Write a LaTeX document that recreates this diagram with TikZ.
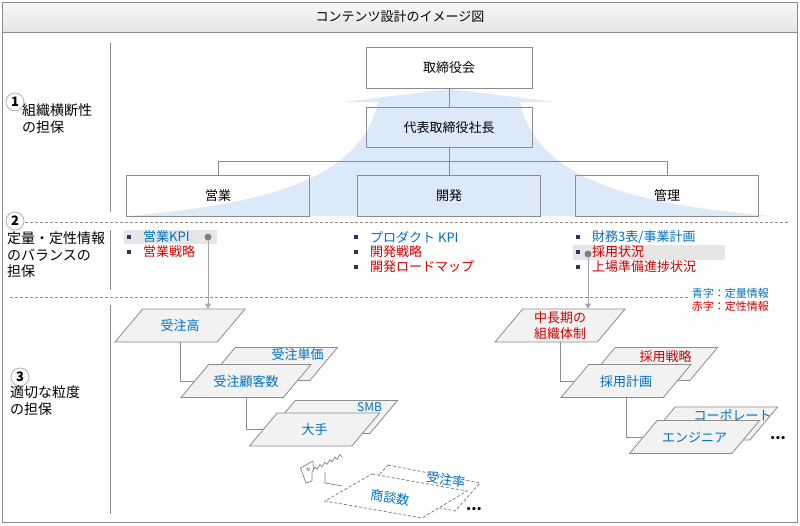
\documentclass[tikz,border=0pt]{standalone}
\usepackage{fontspec}
\setmainfont{Noto Sans CJK JP}
\usepackage{tikz}
\usetikzlibrary{positioning,shapes.geometric,arrows.meta}
\definecolor{lineg}{HTML}{8C8C8C}
\definecolor{cardf}{HTML}{F2F2F2}
\definecolor{hlg}{HTML}{E6E6E6}
\definecolor{qblue}{HTML}{0070C0}
\definecolor{qred}{HTML}{D00000}
\definecolor{arrowb}{HTML}{DCE9F9}
\definecolor{navy}{HTML}{1F3864}

\begin{document}
\begin{tikzpicture}[x=1pt,y=-1pt,
  box/.style={draw=lineg,line width=0.8pt,minimum width=183pt,minimum height=41pt,font=\fontsize{13}{15}\selectfont},
  conn/.style={draw=lineg,line width=0.8pt},
  sep/.style={draw=lineg,line width=0.8pt,dash pattern=on 3pt off 2pt},
  num/.style={circle,draw=gray!60,fill=white,line width=0.8pt,minimum size=18pt,inner sep=0pt,font=\fontsize{13}{13}\selectfont\bfseries},
  lab/.style={anchor=north west,align=left,inner sep=0pt,font=\fontsize{14}{16.5}\selectfont},
  item/.style={anchor=west,inner sep=1pt,font=\fontsize{13}{15}\selectfont,label={[fill=navy,minimum size=4pt,inner sep=0pt,label distance=11pt]left:{}}},
  hl/.style={fill=hlg,inner sep=0pt},
  dot/.style={circle,fill=gray,minimum size=7pt,inner sep=0pt},
  flow/.style={draw=gray!70,line width=0.8pt,-{Triangle[width=6pt,length=5pt]}},
  card/.style={trapezium,trapezium left angle=50,trapezium right angle=130,trapezium stretches body,draw=lineg,fill=cardf,line width=0.8pt,minimum width=130pt,minimum height=0pt,text height=11.5pt,text depth=1.5pt,inner xsep=1pt,inner ysep=10pt,font=\fontsize{13}{15}\selectfont},
  legend/.style={anchor=east,inner sep=0pt,font=\fontsize{11}{13}\selectfont},
  more/.style={inner sep=0pt,font=\fontsize{15}{15}\selectfont\bfseries},
  saw/.style={draw=gray,line width=0.7pt,line join=round}]
\useasboundingbox (0,0) rectangle (800,525);
\fill[white] (0,0) rectangle (800,525);
\shade[top color=gray!6,bottom color=gray!20] (2,2) rectangle (797,32);
\draw[lineg] (2,2) rectangle (797,522);
\draw[lineg] (2,32) -- (797,32);
\node[font=\fontsize{13}{15}\selectfont] (title) at (400,17) {コンテンツ設計のイメージ図};

\fill[arrowb] (449,89) -- (554,102) -- (520,102) .. controls (538,185) and (648,205) .. (770,216)
  -- (128,216) .. controls (250,205) and (360,185) .. (378,102) -- (344,102) -- cycle;
\node[box,minimum width=166pt] (board) at (449,67.5) {取締役会};
\node[box,minimum width=166pt,minimum height=40pt] (ceo) at (449,127.5) {代表取締役社長};
\node[box] (sales) at (218,195.5) {営業};
\node[box] (dev) at (449,195.5) {開発};
\node[box] (admin) at (667,195.5) {管理};
\draw[conn] (board) -- (ceo);
\draw[conn] (ceo) -- (dev);
\draw[conn] (sales.north) -- ++(0,-13) -| (admin.north);

\draw[lineg] (110,43) -- (110,212);
\draw[lineg] (110,230) -- (110,290);
\draw[lineg] (110,305) -- (110,514);
\draw[sep] (10,222) -- (790,222);
\draw[sep] (10,297) -- (690,297);
\node[num] (n1) at (15,102) {1};
\node[lab] (l1) at (22,104) {組織横断性\\の担保};
\node[num] (n2) at (15,221) {2};
\node[lab] (l2) at (7,232) {定量・定性情報\\のバランスの\\担保};
\node[num] (n3) at (20,377) {3};
\node[lab] (l3) at (10,386) {適切な粒度\\の担保};

\node[hl,minimum width=93pt,minimum height=14pt] (hl1) at (170.5,237) {};
\node[hl,minimum width=152pt,minimum height=15pt] (hl3) at (649,252.5) {};
\node[item,text=qblue] (s1) at (142,237) {営業KPI};
\node[item,text=qred] (s2) at (142,252) {営業戦略};
\node[item,text=qblue] (p1) at (369,237) {プロダクト KPI};
\node[item,text=qred] (p2) at (369,252) {開発戦略};
\node[item,text=qred] (p3) at (369,267) {開発ロードマップ};
\node[item,text=qblue] (m1) at (591,237) {財務3表/事業計画};
\node[item,text=qred] (m2) at (591,252) {採用状況};
\node[item,text=qred] (m3) at (591,267) {上場準備進捗状況};
\node[legend,text=qblue] (lg1) at (769,293) {青字：定量情報};
\node[legend,text=qred] (lg2) at (769,306) {赤字：定性情報};

\node[card,text=qblue] (jc1) at (180,325.5) {受注高};
\node[card,label={[text=qblue,font=\fontsize{13}{15}\selectfont,xshift=25pt,yshift=9pt]center:受注単価}] (jc2b) at (272.5,364) {};
\node[card,text=qblue] (jc2) at (246,381) {受注顧客数};
\node[card,label={[text=qblue,font=\fontsize{12}{14}\selectfont,xshift=37pt,yshift=10pt]center:SMB}] (jc3b) at (332.5,417) {};
\node[card,text=qblue] (jc3) at (314.5,429.5) {大手};
\draw[conn] (jc1.center |- jc1.south) |- (jc2.left side);
\draw[conn] (jc2.center |- jc2.south) |- (jc3.left side);

\node[card,text=qred,align=center,font=\fontsize{13}{15.5}\selectfont,text height=27pt,text depth=1.5pt,inner ysep=2.25pt] (ck1) at (560,325.5) {中長期の\\組織体制};
\node[card,label={[text=qred,font=\fontsize{13}{15}\selectfont,xshift=13pt,yshift=7pt]center:採用戦略}] (ck2b) at (652.5,364) {};
\node[card,text=qblue] (ck2) at (626,381) {採用計画};
\node[card,label={[text=qblue,font=\fontsize{13}{15}\selectfont,xshift=20pt,yshift=8pt]center:コーポレート}] (ck3b) at (712.5,423.5) {};
\node[card,text=qblue] (ck3) at (694.5,437) {エンジニア};
\draw[conn] (ck1.center |- ck1.south) |- (ck2.left side);
\draw[conn] (ck2.center |- ck2.south) |- (ck3.left side);
\node[more] (dots2) at (778,438) {...};

\node[dot] (d1) at (208,237) {};
\node[dot] (d3) at (588,254) {};
\draw[flow] (d1) -- (d1 |- jc1.north);
\draw[flow] (d3) -- (d3 |- ck1.north);

\draw[saw] (313,461) -- (300.5,468) -- (306,483) -- (312,481) -- (312,472) -- (315,467) -- (317,469.5) -- (320,464.5)
  -- (322,467) -- (325,462) -- (327,464.5) -- (330,459.5) -- (332,462) -- (335,457) -- (337,459.5) -- (340,454.5) -- (342,457);
\draw[saw] (313,461) -- (313.5,470);
\draw[saw] (325,472) -- (325,483) -- (342,486);
\draw[saw] (308,469) circle (1.5);
\draw[sep,draw=gray] (388,465) -- (480,483) -- (455,511) -- (363,493) -- cycle;
\filldraw[sep,draw=gray,fill=white] (372,474) -- (467,491) -- (422,518) -- (325,501) -- cycle;
\node[text=qblue,rotate=-9,inner sep=0pt,font=\fontsize{13}{15}\selectfont] (rate) at (446,480) {受注率};
\node[text=qblue,rotate=-9,inner sep=0pt,font=\fontsize{13}{15}\selectfont] (deals) at (390,498) {商談数};
\node[more] (dots1) at (474,509) {...};
\end{tikzpicture}
\end{document}
